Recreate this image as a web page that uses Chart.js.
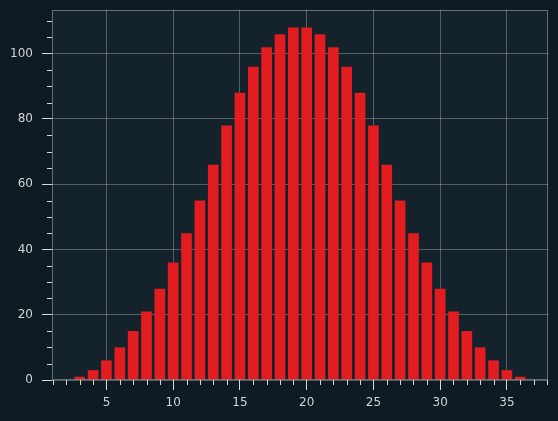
<!DOCTYPE html>
<html>
<head>
<meta charset="utf-8">
<script src="https://cdn.jsdelivr.net/npm/chart.js@4.4.0/dist/chart.umd.min.js"></script>
<style>
  html, body { margin: 0; padding: 0; background: #0e1b22; }
  #wrap { width: 558px; height: 421px; }
</style>
</head>
<body>
<div id="wrap"><canvas id="hist"></canvas></div>
<script>
// suma de 3 dados de 12 caras
const sums = [3,4,5,6,7,8,9,10,11,12,13,14,15,16,17,18,19,20,21,22,23,24,25,26,27,28,29,30,31,32,33,34,35,36];
const counts = [1,3,6,10,15,21,28,36,45,55,66,78,88,96,102,106,108,108,106,102,96,88,78,66,55,45,36,28,21,15,10,6,3,1];
const xMajor = [5,10,15,20,25,30,35];
const yMajor = [0,20,40,60,80,100];

const gridCol = 'rgba(255,255,255,0.28)';
const tickCol = '#d6dadc';
const textCol = '#cfd4d6';

// fondo del area + spines + ticks menores
const axesDeco = {
  id: 'axesDeco',
  beforeDraw(chart) {
    const a = chart.chartArea, ctx = chart.ctx;
    ctx.save();
    ctx.fillStyle = '#13222b';
    ctx.fillRect(a.left, a.top, a.right - a.left, a.bottom - a.top);
    ctx.restore();
  },
  afterDraw(chart) {
    const a = chart.chartArea, ctx = chart.ctx;
    const xs = chart.scales.x, ys = chart.scales.y;
    ctx.save();
    ctx.strokeStyle = tickCol;
    ctx.lineWidth = 1;
    ctx.beginPath();
    for (let v = 1; v <= 38; v++) {
      if (v % 5 === 0) continue;
      const px = Math.round(xs.getPixelForValue(v)) + 0.5;
      ctx.moveTo(px, a.bottom);
      ctx.lineTo(px, a.bottom + 5);
    }
    for (let v = 5; v <= 110; v += 5) {
      if (v % 20 === 0) continue;
      const py = Math.round(ys.getPixelForValue(v)) + 0.5;
      ctx.moveTo(a.left, py);
      ctx.lineTo(a.left - 5, py);
    }
    ctx.stroke();
    ctx.strokeStyle = 'rgba(200,205,208,0.45)';
    ctx.strokeRect(a.left + 0.5, a.top + 0.5, a.right - a.left - 1, a.bottom - a.top - 1);
    ctx.restore();
  }
};

const ctx = document.getElementById('hist').getContext('2d');
const chart = new Chart(ctx, {
  type: 'bar',
  data: {
    datasets: [{
      data: sums.map((s, i) => ({ x: s, y: counts[i] })),
      backgroundColor: '#e21c1f',
      borderWidth: 0,
      barPercentage: 0.8,
      categoryPercentage: 1.0
    }]
  },
  options: {
    responsive: true,
    maintainAspectRatio: false,
    animation: false,
    layout: { padding: { top: 10, right: 10, left: 0, bottom: 0 } },
    plugins: {
      legend: { display: false },
      tooltip: { enabled: false }
    },
    scales: {
      x: {
        type: 'linear',
        min: 0.92,
        max: 38.08,
        offset: false,
        z: 1,
        afterBuildTicks: (s) => { s.ticks = xMajor.map(v => ({ value: v })); },
        afterFit: (s) => { s.height = 41; s.paddingLeft = 0; s.paddingRight = 0; },
        grid: { color: gridCol, tickColor: tickCol, tickLength: 10, offset: false },
        border: { display: false },
        ticks: { color: textCol, font: { family: 'DejaVu Sans', size: 12 }, padding: 6, maxRotation: 0 }
      },
      y: {
        min: 0,
        max: 113.4,
        z: 1,
        afterBuildTicks: (s) => { s.ticks = yMajor.map(v => ({ value: v })); },
        afterFit: (s) => { s.width = 52; s.paddingTop = 0; s.paddingBottom = 0; },
        grid: { color: gridCol, tickColor: tickCol, tickLength: 10 },
        border: { display: false },
        ticks: { color: textCol, font: { family: 'DejaVu Sans', size: 12 }, padding: 9 }
      }
    }
  },
  plugins: [axesDeco]
});
</script>
</body>
</html>
